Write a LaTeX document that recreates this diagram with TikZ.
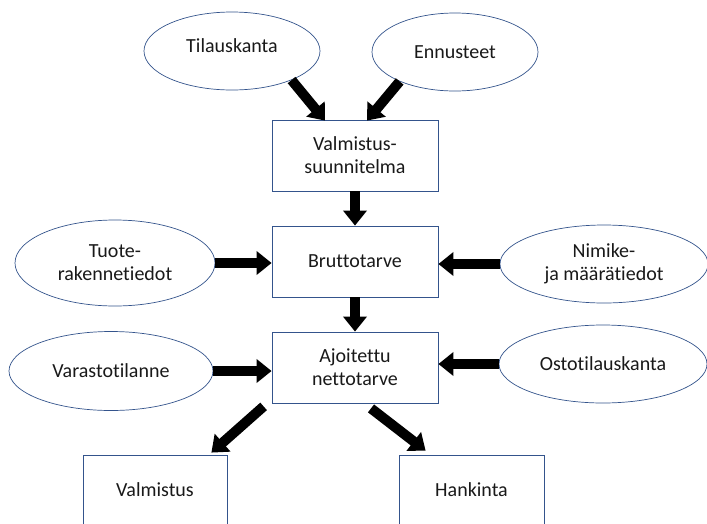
\documentclass[tikz,border=0pt]{standalone}
\usepackage{fontspec}
\setmainfont{Carlito}[Ligatures={NoCommon}]
\usetikzlibrary{shapes.geometric,arrows.meta,calc}
\definecolor{edgeblue}{RGB}{52,84,140}
\begin{document}
\begin{tikzpicture}[x=1pt,y=-1pt,
  every node/.style={font=\fontsize{20}{23}\selectfont, text=black!90, align=center},
  oval/.style={ellipse, draw=edgeblue, line width=0.7pt, fill=white, inner sep=0pt},
  box/.style={rectangle, draw=edgeblue, line width=0.8pt, fill=white, inner sep=0pt, minimum width=166pt, minimum height=71pt},
  bigarrow/.style={line width=10pt, -{Triangle[width=23pt,length=15pt]}, black}
]
\useasboundingbox (0,0) rectangle (707,523);
% ellipses
\node[oval, minimum width=176pt, minimum height=78pt] (til) at (232,51) {\raisebox{10pt}{Tilauskanta}};
\node[oval, minimum width=166pt, minimum height=78pt] (enn) at (455,52) {Ennusteet};
\node[oval, minimum width=200pt, minimum height=86pt] (tuo) at (115,263) {Tuote-\\rakennetiedot};
\node[oval, minimum width=208pt, minimum height=78pt] (nim) at (604,264) {Nimike-\\ja määrätiedot};
\node[oval, minimum width=204pt, minimum height=79pt] (var) at (111,371) {Varastotilanne};
\node[oval, minimum width=208pt, minimum height=78pt] (ost) at (603,364) {Ostotilauskanta};
% boxes
\node[box] (vs) at (355,155.5) {Valmistus-\\suunnitelma};
\node[box] (bru) at (355,261.5) {Bruttotarve};
\node[box] (ajo) at (355,367.5) {Ajoitettu\\nettotarve};
\node[box, minimum width=144pt, minimum height=70pt] (val) at (155,490) {Valmistus};
\node[box, minimum width=145pt, minimum height=70pt] (han) at (471.5,490) {Hankinta};
% arrows
\draw[bigarrow] (til.-26) -- ($(vs.north)+(-30,1)$);
\draw[bigarrow] (enn.208) -- ($(vs.north)+(12,1)$);
\draw[bigarrow] (vs.south) -- (bru.north);
\draw[bigarrow] (bru.south) -- (ajo.north);
\draw[bigarrow] (tuo.east) -- (tuo.east -| bru.west);
\draw[bigarrow] (nim.west) -- (nim.west -| bru.east);
\draw[bigarrow] (var.east) -- (var.east -| ajo.west);
\draw[bigarrow] (ost.west) -- (ost.west -| ajo.east);
\draw[bigarrow] ($(ajo.south west)+(-8,3)$) -- ($(val.north east)+(-16,-2)$);
\draw[bigarrow] ($(ajo.south)+(16,5)$) -- ($(han.north west)+(27,-4)$);
\end{tikzpicture}
\end{document}
